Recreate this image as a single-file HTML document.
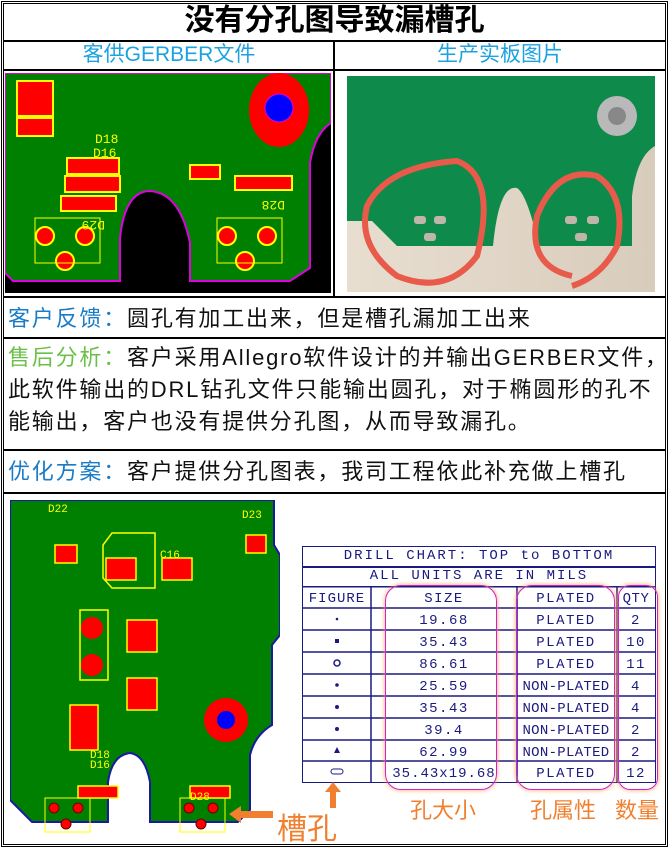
<!DOCTYPE html>
<html><head><meta charset="utf-8"><style>
*{margin:0;padding:0;box-sizing:border-box}
body{width:669px;height:848px;background:#fff;position:relative;overflow:hidden;font-family:"Liberation Sans","Noto Sans CJK SC",sans-serif}
.a{position:absolute}
.hl{position:absolute;left:3px;width:663px;height:2px;background:#000}
.t{position:absolute;left:8px;font-size:22px;white-space:nowrap;color:#111;letter-spacing:1.8px;line-height:26px}
.blue{color:#1a7cc7}.green{color:#6cc04a}
</style></head><body>
<div class="a" style="left:1px;top:1px;width:667px;height:846px;border:3px double #000"></div>
<div class="a" style="left:0;top:3px;width:669px;text-align:center;font-size:30px;font-weight:bold;line-height:36px">没有分孔图导致漏槽孔</div>
<div class="hl" style="top:40px"></div>
<div class="a" style="left:4px;top:41px;width:330px;text-align:center;font-size:21px;color:#1aa3e0;line-height:28px">客供GERBER文件</div>
<div class="a" style="left:335px;top:41px;width:330px;text-align:center;font-size:21px;color:#1aa3e0;line-height:28px">生产实板图片</div>
<div class="a" style="left:333px;top:40px;width:2px;height:258px;background:#000"></div>
<div class="hl" style="top:69px"></div>

<svg class="a" style="left:5px;top:73px" width="326" height="220" viewBox="0 0 326 220">
<rect width="326" height="220" fill="#000"/>
<path d="M0 0H326V50Q310 60 305 90V195L285 208H185V170Q175 120 145 118Q120 118 115 165V208H8L0 200Z" fill="#008000" stroke="#e000e0" stroke-width="2"/>
<ellipse cx="274" cy="37" rx="30" ry="37" fill="#f00"/><circle cx="274" cy="35" r="14" fill="#00f" stroke="#e000e0"/>
<g fill="#f00" stroke="#ff0" stroke-width="2">
<rect x="12" y="8" width="36" height="35"/><rect x="12" y="45" width="36" height="18"/>
<rect x="62" y="85" width="52" height="16"/><rect x="60" y="103" width="55" height="16"/><rect x="56" y="123" width="55" height="15"/>
<rect x="185" y="92" width="30" height="14"/><rect x="230" y="103" width="57" height="14"/>
<circle cx="40" cy="163" r="9"/><circle cx="80" cy="163" r="9"/><circle cx="60" cy="188" r="9"/>
<circle cx="222" cy="163" r="9"/><circle cx="262" cy="163" r="9"/><circle cx="240" cy="188" r="9"/>
</g>
<g fill="none" stroke="#ff0" stroke-width="1"><rect x="30" y="145" width="65" height="45"/><rect x="212" y="145" width="65" height="45"/></g>
<g fill="#ff0" font-size="13" font-family="Liberation Mono"><text x="90" y="70">D18</text><text x="88" y="84">D16</text><text x="72" y="158" transform="rotate(180 86 153)">D29</text><text x="250" y="136" transform="rotate(180 265 132)">D28</text></g>
</svg>

<svg class="a" style="left:347px;top:76px" width="308" height="216" viewBox="0 0 308 216">
<defs><linearGradient id="w" x1="0" x2="1"><stop offset="0" stop-color="#e8ded0"/><stop offset="1" stop-color="#d8ccbc"/></linearGradient></defs>
<rect width="308" height="216" fill="url(#w)"/>
<path d="M0 0H308V70Q290 80 285 120V170H192Q180 118 170 112Q152 108 146 170H50L25 145H0Z" fill="#0e8a4a"/>
<circle cx="270" cy="40" r="20" fill="#b9b9b9"/><circle cx="270" cy="40" r="9" fill="#888"/>
<g fill="#bfb5a8"><rect x="67" y="140" width="12" height="8" rx="3"/><rect x="87" y="140" width="12" height="8" rx="3"/><rect x="77" y="157" width="12" height="8" rx="3"/>
<rect x="218" y="140" width="12" height="8" rx="3"/><rect x="240" y="140" width="12" height="8" rx="3"/><rect x="228" y="157" width="12" height="8" rx="3"/></g>
<g fill="none" stroke="#e85a4a" stroke-width="6"><path d="M110 85Q150 100 130 180Q100 220 50 200Q10 170 20 130Q40 90 110 85Z"/><path d="M225 200Q180 190 190 140Q210 90 250 100Q280 120 270 170Q255 200 225 210"/></g>
</svg>

<div class="hl" style="top:296px"></div>
<div class="t" style="top:306px"><span class="blue">客户反馈：</span>圆孔有加工出来，但是槽孔漏加工出来</div>
<div class="hl" style="top:337px"></div>
<div class="t" style="top:345px"><span class="green">售后分析：</span>客户采用Allegro软件设计的并输出GERBER文件，</div>
<div class="t" style="top:377px">此软件输出的DRL钻孔文件只能输出圆孔，对于椭圆形的孔不</div>
<div class="t" style="top:409px">能输出，客户也没有提供分孔图，从而导致漏孔。</div>
<div class="hl" style="top:449px"></div>
<div class="t" style="top:459px"><span class="blue">优化方案：</span>客户提供分孔图表，我司工程依此补充做上槽孔</div>
<div class="hl" style="top:492px"></div>

<svg class="a" style="left:10px;top:500px" width="270" height="335" viewBox="0 0 270 335">
<path d="M0 0H264V45L270 55V135L262 145V225Q245 235 240 255V310L228 322H140V282Q135 255 120 253Q102 255 98 282V322H22L0 300Z" fill="#008000" stroke="#1a1aa0" stroke-width="2"/>
<circle cx="216" cy="220" r="22" fill="#f00"/><circle cx="216" cy="220" r="9" fill="#00f"/>
<g fill="#f00" stroke="#ff0" stroke-width="1.5">
<rect x="96" y="58" width="30" height="22"/><rect x="152" y="58" width="30" height="22"/>
<rect x="117" y="120" width="30" height="32"/><rect x="117" y="178" width="30" height="32"/>
<rect x="45" y="45" width="22" height="18"/><rect x="236" y="35" width="20" height="18"/>
<rect x="60" y="205" width="28" height="45"/><rect x="68" y="286" width="40" height="12"/><rect x="180" y="286" width="40" height="12"/>
</g>
<circle cx="82" cy="128" r="11" fill="#f00"/><circle cx="82" cy="165" r="11" fill="#f00"/>
<g fill="none" stroke="#ff0" stroke-width="1.5"><path d="M102 33H145V88H102L93 78V45Z"/><rect x="70" y="110" width="28" height="70"/></g>
<g fill="none" stroke="#ff0"><rect x="35" y="298" width="45" height="34"/><rect x="170" y="298" width="45" height="34"/></g>
<g fill="#f00" stroke="#600"><circle cx="44" cy="308" r="5"/><circle cx="68" cy="308" r="5"/><circle cx="56" cy="324" r="5"/><circle cx="179" cy="308" r="5"/><circle cx="203" cy="308" r="5"/><circle cx="191" cy="324" r="5"/></g>
<g fill="#ff0" font-size="11" font-family="Liberation Mono"><text x="38" y="12">D22</text><text x="232" y="18">D23</text><text x="80" y="258">D18</text><text x="80" y="268">D16</text><text x="180" y="300">D28</text><text x="150" y="58">C16</text></g>
</svg>

<div class="a" style="left:302px;top:546px;width:354px;height:237px;border:1.5px solid #1a1a80"></div>
<div class="a" style="left:302px;top:546px;width:354px;font-family:'Liberation Mono',monospace;font-size:14px;color:#1a1a80;letter-spacing:2px;line-height:20px;text-align:center">DRILL CHART: TOP to BOTTOM<br>ALL UNITS ARE IN MILS</div>
<div class="a" style="left:302px;top:566px;width:354px;height:1.5px;background:#1a1a80"></div>
<svg class="a" style="left:302px;top:586px;font-family:'Liberation Mono',monospace" width="354" height="198" viewBox="0 0 354 198">
<g stroke="#1a1a80" stroke-width="1.5">
<line x1="0" y1="0.7" x2="354" y2="0.7"/><line x1="0" y1="22" x2="354" y2="22"/><line x1="0" y1="44" x2="354" y2="44"/><line x1="0" y1="66" x2="354" y2="66"/><line x1="0" y1="88" x2="354" y2="88"/><line x1="0" y1="110" x2="354" y2="110"/><line x1="0" y1="132" x2="354" y2="132"/><line x1="0" y1="154" x2="354" y2="154"/><line x1="0" y1="175" x2="354" y2="175"/>
<line x1="69" y1="0" x2="69" y2="197"/><line x1="215" y1="0" x2="215" y2="197"/><line x1="315" y1="0" x2="315" y2="197"/>
</g>
<g fill="#1a1a80" font-size="14" text-anchor="middle" letter-spacing="1.5">
<text x="35" y="16" letter-spacing="1">FIGURE</text><text x="142" y="16">SIZE</text><text x="264" y="16">PLATED</text><text x="334" y="16" letter-spacing="0.5">QTY</text>
<text x="142" y="38">19.68</text><text x="142" y="60">35.43</text><text x="142" y="82">86.61</text><text x="142" y="104">25.59</text><text x="142" y="126">35.43</text><text x="142" y="148">39.4</text><text x="142" y="170">62.99</text><text x="142" y="191" letter-spacing="1">35.43x19.68</text>
<text x="264" y="38">PLATED</text><text x="264" y="60">PLATED</text><text x="264" y="82">PLATED</text><text x="264" y="104" letter-spacing="0.3">NON-PLATED</text><text x="264" y="126" letter-spacing="0.3">NON-PLATED</text><text x="264" y="148" letter-spacing="0.3">NON-PLATED</text><text x="264" y="170" letter-spacing="0.3">NON-PLATED</text><text x="264" y="191">PLATED</text>
<text x="334" y="38">2</text><text x="334" y="60">10</text><text x="334" y="82">11</text><text x="334" y="104">4</text><text x="334" y="126">4</text><text x="334" y="148">2</text><text x="334" y="170">2</text><text x="334" y="191">12</text>
</g>
<g fill="#1a1a80"><circle cx="35" cy="33" r="1.3"/><rect x="33" y="53" width="4" height="4"/><circle cx="35" cy="77" r="3" fill="none" stroke="#1a1a80" stroke-width="1.5"/><circle cx="35" cy="99" r="1.8"/><circle cx="35" cy="121" r="2"/><circle cx="35" cy="143" r="2"/><path d="M32 167L35 161L38 167Z"/><rect x="29" y="183" width="12" height="5" rx="2.5" fill="none" stroke="#1a1a80"/></g>
</svg>
<div class="a" style="left:385px;top:585px;width:112px;height:205px;border:1.5px solid #d020d0;border-radius:16px;box-shadow:0 0 5px #f5a050"></div>
<div class="a" style="left:516px;top:585px;width:99px;height:205px;border:1.5px solid #d020d0;border-radius:16px;box-shadow:0 0 5px #f5a050"></div>
<div class="a" style="left:618px;top:585px;width:40px;height:205px;border:1.5px solid #d020d0;border-radius:12px;box-shadow:0 0 5px #f5a050"></div>
<div class="a" style="left:410px;top:793px;font-size:22px;color:#f08030">孔大小</div>
<div class="a" style="left:530px;top:793px;font-size:22px;color:#f08030">孔属性</div>
<div class="a" style="left:615px;top:793px;font-size:22px;color:#f08030">数量</div>
<div class="a" style="left:277px;top:804px;font-size:30px;color:#f08030">槽孔</div>
<svg class="a" style="left:225px;top:780px" width="120" height="50"><path d="M108 2L100 12H105V28H111V12H116Z" fill="#f08030"/><path d="M4 34L16 26V31H48V38H16V43Z" fill="#f08030"/></svg>
</body></html>
